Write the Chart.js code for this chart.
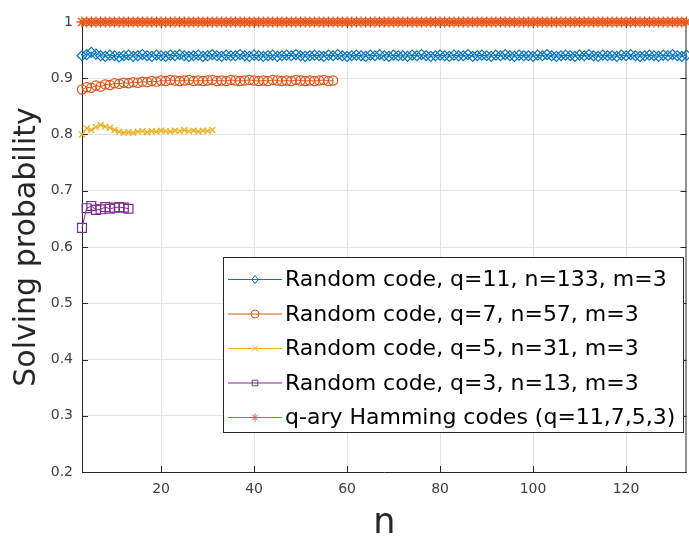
<!DOCTYPE html>
<html>
<head>
<meta charset="utf-8">
<script src="https://cdn.jsdelivr.net/npm/chart.js@4.4.1/dist/chart.umd.min.js"></script>
<style>
  html, body { margin: 0; padding: 0; background: #fff; overflow: hidden; }
  canvas { display: block; }
</style>
</head>
<body>
<canvas id="c" width="694" height="538"></canvas>
<script>
// ---- data ----
const nAxis = [3,4,5,6,7,8,9,10,11,12,13,14,15,16,17,18,19,20,21,22,23,24,25,26,27,28,29,30,31,32,33,34,35,36,37,38,39,40,41,42,43,44,45,46,47,48,49,50,51,52,53,54,55,56,57,58,59,60,61,62,63,64,65,66,67,68,69,70,71,72,73,74,75,76,77,78,79,80,81,82,83,84,85,86,87,88,89,90,91,92,93,94,95,96,97,98,99,100,101,102,103,104,105,106,107,108,109,110,111,112,113,114,115,116,117,118,119,120,121,122,123,124,125,126,127,128,129,130,131,132,133];

const randQ11 = [
  0.940,0.942,0.946,0.943,0.940,0.939,0.941,0.940,0.938,0.940,
  0.941,0.939,0.940,0.942,0.940,0.939,0.941,0.940,0.939,0.941,
  0.940,0.942,0.940,0.939,0.940,0.941,0.939,0.940,0.942,0.940,
  0.939,0.941,0.940,0.940,0.942,0.940,0.939,0.941,0.940,0.939,
  0.940,0.941,0.939,0.940,0.941,0.940,0.942,0.940,0.939,0.940,
  0.941,0.940,0.939,0.941,0.940,0.942,0.940,0.939,0.940,0.941,
  0.940,0.939,0.941,0.940,0.942,0.940,0.939,0.941,0.940,0.940,
  0.939,0.941,0.940,0.942,0.940,0.939,0.940,0.941,0.940,0.939,
  0.941,0.940,0.940,0.942,0.939,0.940,0.941,0.940,0.939,0.941,
  0.940,0.942,0.940,0.939,0.941,0.940,0.940,0.939,0.941,0.940,
  0.942,0.940,0.939,0.940,0.941,0.940,0.939,0.941,0.940,0.942,
  0.940,0.939,0.941,0.940,0.940,0.939,0.941,0.940,0.942,0.940,
  0.939,0.940,0.941,0.940,0.939,0.941,0.940,0.942,0.940,0.939,
  0.941
];
const randQ7 = [
  0.880,0.884,0.883,0.887,0.885,0.889,0.888,0.891,0.890,0.892,
  0.891,0.893,0.892,0.894,0.893,0.895,0.894,0.896,0.895,0.897,
  0.896,0.895,0.896,0.897,0.895,0.896,0.895,0.896,0.897,0.895,
  0.896,0.895,0.897,0.896,0.895,0.896,0.897,0.896,0.895,0.896,
  0.895,0.897,0.896,0.895,0.896,0.895,0.897,0.896,0.895,0.896,
  0.895,0.896,0.897,0.895,0.896
];
const randQ5 = [
  0.800,0.811,0.808,0.813,0.817,0.814,0.812,0.808,0.805,0.803,
  0.804,0.803,0.805,0.806,0.804,0.806,0.805,0.807,0.806,0.805,
  0.807,0.806,0.808,0.806,0.807,0.805,0.807,0.806,0.808
];
const randQ3 = [0.634,0.669,0.673,0.666,0.667,0.671,0.668,0.670,0.671,0.670,0.668];
const hamming = [
  1,1,1,1,1,1,1,1,1,1, 1,1,1,1,1,1,1,1,1,1, 1,1,1,1,1,1,1,1,1,1,
  1,1,1,1,1,1,1,1,1,1, 1,1,1,1,1,1,1,1,1,1, 1,1,1,1,1,1,1,1,1,1,
  1,1,1,1,1,1,1,1,1,1, 1,1,1,1,1,1,1,1,1,1, 1,1,1,1,1,1,1,1,1,1,
  1,1,1,1,1,1,1,1,1,1, 1,1,1,1,1,1,1,1,1,1, 1,1,1,1,1,1,1,1,1,1,
  1,1,1,1,1,1,1,1,1,1, 1
];
const seriesLabels = [
  'Random code, q=11, n=133, m=3',
  'Random code, q=7, n=57, m=3',
  'Random code, q=5, n=31, m=3',
  'Random code, q=3, n=13, m=3',
  'q-ary Hamming codes (q=11,7,5,3)'
];
const xTicks = [20, 40, 60, 80, 100, 120];
const yTicks = [0.2, 0.3, 0.4, 0.5, 0.6, 0.7, 0.8, 0.9, 1];

// ---- styling ----
const FONT = "'DejaVu Sans', sans-serif";
const colors = ['#0072BD', '#D95319', '#EDB120', '#7E2F8E', '#EA581C'];
const styles = ['rectRot', 'circle', 'crossRot', 'rect', 'star'];
const radii = [5, 4.6, 4.2, 6.3, 5.5];
const markerWidths = [1.2, 1.2, 1.3, 1.2, 1.4];
const seriesValues = [randQ11, randQ7, randQ5, randQ3, hamming];

const datasets = seriesValues.map((vals, i) => ({
  label: seriesLabels[i],
  data: vals.map((v, k) => ({ x: nAxis[k], y: v })),
  borderColor: colors[i],
  borderWidth: 1,
  pointStyle: styles[i],
  pointRadius: radii[i],
  pointBorderColor: colors[i],
  pointBackgroundColor: 'rgba(0,0,0,0)',
  pointBorderWidth: markerWidths[i],
  clip: false,
  tension: 0
}));

function drawMarker(ctx, style, x, y, r) {
  ctx.beginPath();
  if (style === 'rectRot') {
    ctx.moveTo(x, y - r); ctx.lineTo(x + r * 0.8, y); ctx.lineTo(x, y + r); ctx.lineTo(x - r * 0.8, y); ctx.closePath();
  } else if (style === 'circle') {
    ctx.arc(x, y, r, 0, Math.PI * 2);
  } else if (style === 'crossRot') {
    const d = r * 0.707;
    ctx.moveTo(x - d, y - d); ctx.lineTo(x + d, y + d); ctx.moveTo(x + d, y - d); ctx.lineTo(x - d, y + d);
  } else if (style === 'rect') {
    const d = r * 0.707;
    ctx.rect(x - d, y - d, 2 * d, 2 * d);
  } else if (style === 'star') {
    for (let a = 0; a < 4; a++) {
      const ang = a * Math.PI / 4;
      ctx.moveTo(x - r * Math.cos(ang), y - r * Math.sin(ang));
      ctx.lineTo(x + r * Math.cos(ang), y + r * Math.sin(ang));
    }
  }
  ctx.stroke();
}

const framePlugin = {
  id: 'frame',
  beforeDatasetsDraw(chart) {
    const { ctx, chartArea: a, scales } = chart;
    ctx.save();
    ctx.strokeStyle = '#262626';
    ctx.lineWidth = 1;
    ctx.beginPath();
    ctx.moveTo(a.left, a.top + 0.5); ctx.lineTo(a.right, a.top + 0.5);
    ctx.moveTo(a.right - 0.5, a.top); ctx.lineTo(a.right - 0.5, a.bottom);
    yTicks.forEach(v => {
      const y = Math.round(scales.y.getPixelForValue(v)) + 0.5;
      ctx.moveTo(a.left, y); ctx.lineTo(a.left + 6, y);
      ctx.moveTo(a.right, y); ctx.lineTo(a.right - 6, y);
    });
    xTicks.forEach(v => {
      const x = Math.round(scales.x.getPixelForValue(v)) + 0.5;
      ctx.moveTo(x, a.bottom); ctx.lineTo(x, a.bottom - 6);
      ctx.moveTo(x, a.top); ctx.lineTo(x, a.top + 6);
    });
    ctx.stroke();
    ctx.restore();
  }
};

const legendPlugin = {
  id: 'boxLegend',
  afterDraw(chart) {
    const ctx = chart.ctx;
    ctx.save();
    const x0 = 223.5, y0 = 257.5, w = 460, h = 175;
    ctx.fillStyle = '#ffffff';
    ctx.fillRect(x0, y0, w, h);
    ctx.strokeStyle = '#262626';
    ctx.lineWidth = 1;
    ctx.strokeRect(x0, y0, w, h);
    chart.data.datasets.forEach((ds, i) => {
      const cy = 279.5 + i * 34.5;
      ctx.strokeStyle = ds.borderColor;
      ctx.lineWidth = 1;
      ctx.beginPath(); ctx.moveTo(228, cy); ctx.lineTo(282, cy); ctx.stroke();
      ctx.fillStyle = '#ffffff';
      drawMarker(ctx, ds.pointStyle, 255, cy, 4);
      ctx.fillStyle = '#000000';
      ctx.font = "22px " + FONT;
      ctx.textAlign = 'left';
      ctx.textBaseline = 'middle';
      ctx.fillText(ds.label, 285, cy + 1);
    });
    ctx.restore();
  }
};

new Chart(document.getElementById('c'), {
  type: 'line',
  data: { datasets },
  options: {
    responsive: false,
    animation: false,
    devicePixelRatio: 1,
    layout: { padding: { top: 22, right: 2, left: 0, bottom: 0 } },
    plugins: { legend: { display: false }, tooltip: { enabled: false } },
    scales: {
      x: {
        type: 'linear',
        min: 3,
        max: 133,
        afterBuildTicks: s => { s.ticks = xTicks.map(v => ({ value: v })); },
        afterFit: s => { s.height = 66; },
        grid: { color: '#e2e2e2', drawTicks: false },
        border: { display: true, color: '#262626', width: 1 },
        ticks: { color: '#404040', font: { family: FONT, size: 14 }, padding: 9, maxRotation: 0 },
        title: { display: true, text: 'n', color: '#262626', font: { family: FONT, size: 35, lineHeight: 0.8 }, padding: { top: 0, bottom: 0 } }
      },
      y: {
        type: 'linear',
        min: 0.2,
        max: 1,
        afterBuildTicks: s => { s.ticks = yTicks.map(v => ({ value: v })); },
        afterFit: s => { s.width = 82; },
        grid: { color: '#e2e2e2', drawTicks: false },
        border: { display: true, color: '#262626', width: 1 },
        ticks: {
          color: '#404040', font: { family: FONT, size: 14 }, padding: 9,
          callback: v => (Math.abs(v - 1) < 1e-9 ? '1' : v.toFixed(1))
        },
        title: { display: true, text: 'Solving probability', color: '#262626', font: { family: FONT, size: 30 }, padding: { top: 9, bottom: 0 } }
      }
    }
  },
  plugins: [framePlugin, legendPlugin]
});
</script>
</body>
</html>
